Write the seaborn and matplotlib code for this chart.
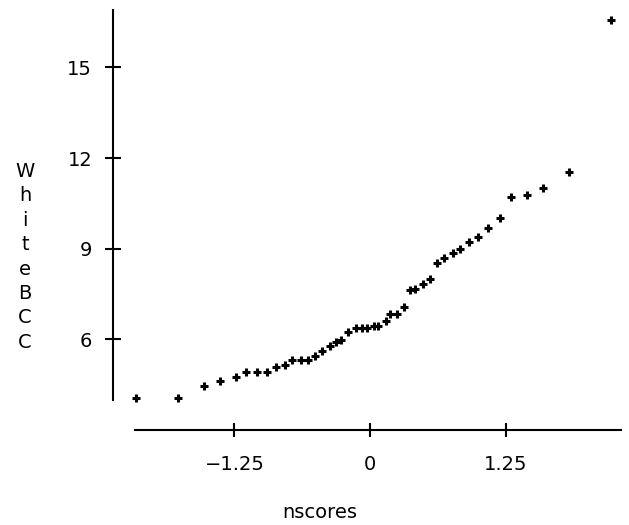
import matplotlib
matplotlib.use("Agg")
import matplotlib.pyplot as plt
import seaborn as sns
import pandas as pd

# normal scores and WhiteBCC values
nscores = [-2.157, -1.770, -1.530, -1.380, -1.232, -1.146, -1.039, -0.952, -0.866,
           -0.781, -0.716, -0.633, -0.569, -0.504, -0.438, -0.369, -0.309, -0.272,
           -0.201, -0.132, -0.076, -0.025, 0.037, 0.077, 0.143, 0.188, 0.252,
           0.316, 0.364, 0.419, 0.484, 0.550, 0.615, 0.679, 0.762, 0.829,
           0.915, 0.998, 1.085, 1.194, 1.300, 1.450, 1.597, 1.834, 2.221]
white_bcc = [4.06, 4.06, 4.44, 4.61, 4.75, 4.92, 4.91, 4.91, 5.07,
             5.15, 5.30, 5.30, 5.30, 5.46, 5.61, 5.77, 5.92, 5.99,
             6.23, 6.37, 6.37, 6.37, 6.45, 6.45, 6.61, 6.84, 6.83,
             7.07, 7.62, 7.68, 7.84, 8.00, 8.53, 8.70, 8.86, 9.00,
             9.23, 9.39, 9.70, 10.00, 10.70, 10.78, 11.01, 11.54, 16.56]

x_ticks = [-1.25, 0, 1.25]
x_ticklabels = ["\u22121.25", "0", "1.25"]
y_ticks = [6, 9, 12, 15]
y_ticklabels = ["6", "9", "12", "15"]

df = pd.DataFrame({"nscores": nscores, "WhiteBCC": white_bcc})

sns.set_style("white")
plt.rcParams['font.family'] = ['DejaVu Sans']
plt.rcParams['text.color'] = 'black'
plt.rcParams['axes.labelcolor'] = 'black'

fig = plt.figure(figsize=(6.29, 5.25), dpi=100)
ax = fig.add_axes([135/629, 1 - 400/525, 486/629, 390/525])

sns.scatterplot(data=df, x="nscores", y="WhiteBCC", ax=ax, marker="+",
                color="black", s=40, linewidth=2.2, clip_on=False)

ax.set_xlim(-2.166, 2.313)
ax.set_ylim(3.99, 16.9)

for side in ["top", "right"]:
    ax.spines[side].set_visible(False)
ax.spines["left"].set_position(("outward", 15.8))
ax.spines["bottom"].set_position(("outward", 21.6))
for side in ["left", "bottom"]:
    ax.spines[side].set_color("black")
    ax.spines[side].set_linewidth(1.5)

ax.set_xticks(x_ticks)
ax.set_xticklabels(x_ticklabels)
ax.set_yticks(y_ticks)
ax.set_yticklabels(y_ticklabels)
ax.tick_params(axis="x", bottom=True, direction="inout", length=10, width=1.5,
               pad=13, labelsize=14, colors="black")
ax.tick_params(axis="y", left=True, direction="inout", length=11, width=1.5,
               pad=9.5, labelsize=14, colors="black")

ax.set_xlabel("nscores", fontsize=14)
ax.xaxis.set_label_coords(0.381, -0.264)
ax.set_ylabel("\n".join("WhiteBCC"), fontsize=14, rotation=0,
              linespacing=1.36, ha="center", va="center")
ax.yaxis.set_label_coords(-0.226, 0.367)

plt.savefig("out.png", dpi=100)
